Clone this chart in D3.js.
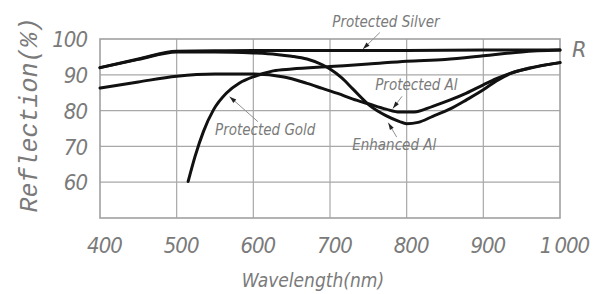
<!DOCTYPE html>
<html><head><meta charset="utf-8">
<script src="https://cdn.jsdelivr.net/npm/d3@7"></script>
<style>
html,body{margin:0;padding:0;background:#fff;}
svg{display:block;}
text{fill:#7a7a7a;font-style:italic;}
</style></head>
<body>
<svg id="c" width="598" height="294"></svg>
<script>
// ---- data ----
const xTicks = [400, 500, 600, 700, 800, 900, 1000];
const yTicks = [60, 70, 80, 90, 100];

const silverWl = [400, 450, 500, 550, 600, 700, 800, 900, 1000];
const silverR  = [92.0, 94.4, 96.6, 96.7, 96.8, 96.8, 96.8, 96.9, 96.9];

const enhancedWl = [400, 450, 500, 550, 600, 630, 650, 670, 690, 700, 715, 730, 752, 773, 790, 800, 815, 834, 856, 878, 900, 917, 935, 960, 1000];
const enhancedR  = [92.0, 94.3, 96.4, 96.4, 96.1, 95.7, 95.2, 94.4, 92.8, 91.6, 89.2, 86.0, 81.4, 78.6, 77.0, 76.3, 76.7, 78.4, 80.4, 83.0, 85.8, 88.3, 90.3, 91.8, 93.4];

const protAlWl = [400, 450, 500, 550, 600, 640, 670, 690, 710, 730, 750, 773, 791, 810, 834, 856, 878, 900, 917, 935, 960, 1000];
const protAlR  = [86.3, 88.0, 89.6, 90.2, 90.2, 89.4, 87.6, 86.2, 84.8, 83.2, 81.9, 80.4, 79.6, 79.6, 81.2, 82.9, 84.9, 87.2, 88.9, 90.4, 91.9, 93.4];

const goldWl = [515, 524, 535, 548, 565, 582, 602, 626, 650, 700, 750, 800, 850, 900, 950, 1000];
const goldR  = [60.2, 67.2, 74.2, 80.2, 84.9, 87.7, 89.6, 91.1, 91.6, 92.3, 93.0, 93.8, 94.3, 95.3, 96.4, 96.9];

// annotations: label text, label anchor (wl, R), leader from -> to (wl, R)
const labelNames = ["Protected Silver", "Protected Al", "Enhanced Al", "Protected Gold"];
const labelPos   = [[703, 104.7], [759, 87.2], [729, 70.4], [550, 74.6]];
const leaderFrom = [[765, 101.8], [794, 84.0], [787, 72.6], [606, 76.9]];
const leaderTo   = [[743, 97.2], [782, 80.6], [776, 76.6], [569, 83.9]];

// ---- chart ----
const svg = d3.select("#c");
const x = d3.scaleLinear().domain([400, 1000]).range([100, 560]);
const y = d3.scaleLinear().domain([50, 100]).range([218, 39]);

// grid
const g = svg.append("g");
g.selectAll("line.vx").data(xTicks.slice(1, -1)).join("line")
  .attr("x1", d => x(d)).attr("x2", d => x(d)).attr("y1", y(50)).attr("y2", y(100))
  .attr("stroke", "#a8a8a8").attr("stroke-width", 1.2);
g.selectAll("line.hy").data(yTicks.slice(0, -1)).join("line")
  .attr("x1", x(400)).attr("x2", x(1000)).attr("y1", d => y(d)).attr("y2", d => y(d))
  .attr("stroke", "#a8a8a8").attr("stroke-width", 1.2);
g.append("rect").attr("x", x(400)).attr("y", y(100)).attr("width", x(1000) - x(400)).attr("height", y(50) - y(100))
  .attr("fill", "none").attr("stroke", "#a0a0a0").attr("stroke-width", 1.6);

// axes labels (via d3 axes, domain/ticks hidden)
const fontTick = "'DejaVu Sans', sans-serif";
const xa = svg.append("g").attr("transform", `translate(0,${y(50)})`)
  .call(d3.axisBottom(x).tickValues(xTicks).tickSize(0).tickPadding(0).tickFormat(d => d === 1000 ? "1\u2009000" : d));
xa.select(".domain").remove();
xa.selectAll("text").attr("dy", null).attr("y", 35).attr("dx", 4)
  .style("font-family", fontTick).style("font-size", "22px").style("font-stretch", "condensed")
  .style("letter-spacing", "-1px").attr("fill", "#7a7a7a");

const ya = svg.append("g").attr("transform", `translate(${x(400)},0)`)
  .call(d3.axisLeft(y).tickValues(yTicks).tickSize(0).tickPadding(13));
ya.select(".domain").remove();
ya.selectAll("text").attr("dy", "0.35em")
  .style("font-family", fontTick).style("font-size", "22px").style("font-stretch", "condensed")
  .style("letter-spacing", "-1px").attr("fill", "#7a7a7a");

// titles
svg.append("text").attr("x", 313).attr("y", 287).attr("text-anchor", "middle")
  .style("font-family", fontTick).style("font-size", "19px").style("font-stretch", "condensed")
  .text("Wavelength(nm)");
svg.append("text").attr("transform", "translate(37,115) rotate(-90)").attr("text-anchor", "middle")
  .style("font-family", "'Liberation Mono', monospace").style("font-size", "25px")
  .text("Reflection(%)");

// curves
const line = d3.line().x(d => x(d[0])).y(d => y(d[1])).curve(d3.curveMonotoneX);
const series = [
  d3.zip(silverWl, silverR),
  d3.zip(enhancedWl, enhancedR),
  d3.zip(protAlWl, protAlR),
  d3.zip(goldWl, goldR)
];
svg.append("g").selectAll("path").data(series).join("path")
  .attr("d", line).attr("fill", "none").attr("stroke", "#111").attr("stroke-width", 3)
  .attr("stroke-linecap", "round").attr("stroke-linejoin", "round");

// annotations
const ann = svg.append("g");
labelNames.forEach((t, i) => {
  ann.append("text").attr("x", x(labelPos[i][0])).attr("y", y(labelPos[i][1])).attr("dy", "0.35em")
    .style("font-family", fontTick).style("font-size", "15px").style("font-stretch", "condensed")
    .attr("fill", "#808080").text(t);
  const x1 = x(leaderFrom[i][0]), y1 = y(leaderFrom[i][1]);
  const x2 = x(leaderTo[i][0]), y2 = y(leaderTo[i][1]);
  ann.append("line").attr("x1", x1).attr("y1", y1).attr("x2", x2).attr("y2", y2)
    .attr("stroke", "#909090").attr("stroke-width", 1);
  const ang = Math.atan2(y2 - y1, x2 - x1);
  const L = 7, W = 2.2;
  const bx = x2 - L * Math.cos(ang), by = y2 - L * Math.sin(ang);
  const px = -Math.sin(ang) * W, py = Math.cos(ang) * W;
  ann.append("path").attr("d", `M${x2},${y2}L${bx + px},${by + py}L${bx - px},${by - py}Z`).attr("fill", "#222");
});
svg.append("text").attr("x", x(1000) + 12).attr("y", y(96.9)).attr("dy", "0.35em")
  .style("font-family", fontTick).style("font-size", "21px").attr("fill", "#7a7a7a").text("R");
</script>
</body></html>
